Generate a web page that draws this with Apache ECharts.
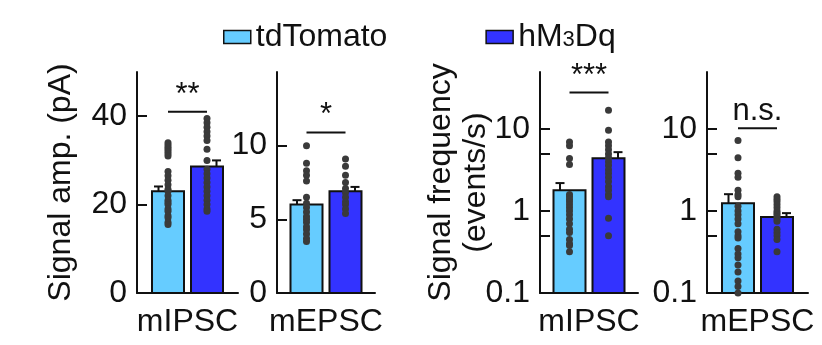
<!DOCTYPE html>
<html><head><meta charset="utf-8">
<script src="https://cdn.jsdelivr.net/npm/echarts@6/dist/echarts.min.js"></script>
<style>html,body{margin:0;padding:0;background:#fff}#c{width:822px;height:345px}</style>
</head><body><div id="c"></div>
<script>
// ---- data ----
const panelLabels = ['mIPSC', 'mEPSC', 'mIPSC', 'mEPSC'];
const groupNames = ['tdTomato', 'hM3Dq'];
const tdAmpIPSC = [34.0, 33.5, 33.0, 32.5, 32.0, 31.5, 31.0, 27.5, 26.5, 25.5, 24.5, 23.5, 23.0, 22.0, 21.0, 20.5, 20.0, 19.0, 18.5, 17.5, 17.0, 16.0, 15.5];
const hmAmpIPSC = [39.5, 38.5, 37.5, 36.5, 35.5, 34.5, 32.5, 30.0, 28.0, 27.0, 26.0, 25.0, 24.0, 23.0, 22.0, 21.0, 20.0, 19.0, 18.5];
const tdAmpEPSC = [10.0, 8.8, 8.3, 8.0, 7.6, 6.5, 6.1, 5.8, 5.5, 5.2, 5.0, 4.8, 4.5, 4.3, 4.0, 3.7, 3.5];
const hmAmpEPSC = [9.1, 8.6, 8.0, 7.5, 7.1, 6.8, 6.5, 6.2, 6.0, 5.7, 5.4];
const tdFreqIPSC = [7.0, 6.3, 4.4, 3.7, 1.6, 1.5, 1.4, 1.3, 1.2, 1.1, 1.0, 0.9, 0.8, 0.7, 0.6, 0.55, 0.45, 0.4, 0.38, 0.32];
const hmFreqIPSC = [17.0, 9.7, 7.0, 6.3, 5.6, 5.0, 4.5, 4.0, 3.6, 3.2, 2.9, 2.6, 2.3, 2.0, 1.8, 1.6, 1.5, 0.82, 0.5];
const tdFreqEPSC = [7.3, 4.5, 2.9, 2.6, 1.8, 1.6, 1.5, 1.15, 1.0, 0.9, 0.8, 0.7, 0.56, 0.5, 0.47, 0.35, 0.3, 0.27, 0.22, 0.18, 0.14, 0.12, 0.10];
const hmFreqEPSC = [1.5, 1.4, 1.3, 1.2, 1.1, 1.0, 0.95, 0.9, 0.85, 0.8, 0.75, 0.6, 0.55, 0.5, 0.45, 0.32];
const tdMean = [23.0, 6.0, 1.8, 1.25];
const tdSem = [1.1, 0.3, 0.4, 0.36];
const hmMean = [28.6, 6.9, 4.43, 0.845];
const hmSem = [1.4, 0.3, 0.82, 0.1];
const sigText = ['**', '*', '***', 'n.s.'];
const sigLevel = [41.0, 10.9, 28.0, 10.3];
const ampIPSCTicks = [0, 20, 40];
const ampEPSCTicks = [0, 5, 10];
const logLabelValues = [0.1, 1, 10];
const logTickValues = [0.1, 0.5, 1, 5, 10];
const yNames = ['Signal amp. (pA)', '', 'Signal frequency\n(events/s)', ''];

// ---- style ----
const FONT = '"Liberation Sans", Arial, sans-serif';
const FS = 32;
const LIGHT = '#66ccff', DARK = '#3333ff', DOT = '#3a3a3a', INK = '#111111';
const BAR_W = 32, BAR_OFF = 19.5, ERR_OFF = 9.5, CAP = 4.5;
const gridBoxes = [[137, 101], [277, 98], [540, 98], [707, 101]];
const tdDots = [tdAmpIPSC, tdAmpEPSC, tdFreqIPSC, tdFreqEPSC];
const hmDots = [hmAmpIPSC, hmAmpEPSC, hmFreqIPSC, hmFreqEPSC];

function barRender(side, fill) {
  return function (params, api) {
    const cs = params.coordSys;
    const base = cs.y + cs.height;
    const c = api.coord([api.value(0), api.value(1)]);
    const e = api.coord([api.value(0), api.value(1) + api.value(2)]);
    const cx = c[0] + side * BAR_OFF;
    const ex = cx + side * ERR_OFF;
    return { type: 'group', children: [
      { type: 'line', shape: { x1: ex, y1: c[1], x2: ex, y2: e[1] }, style: { stroke: INK, lineWidth: 2 } },
      { type: 'line', shape: { x1: ex - CAP, y1: e[1], x2: ex + CAP, y2: e[1] }, style: { stroke: INK, lineWidth: 2 } },
      { type: 'rect', shape: { x: cx - BAR_W / 2, y: c[1], width: BAR_W, height: base - c[1] }, style: { fill: fill, stroke: INK, lineWidth: 2 } }
    ] };
  };
}
function sigRender(i) {
  return function (params, api) {
    const c = api.coord([api.value(0), api.value(1)]);
    return { type: 'group', children: [
      { type: 'line', shape: { x1: c[0] - BAR_OFF, y1: c[1], x2: c[0] + BAR_OFF, y2: c[1] }, style: { stroke: INK, lineWidth: 2 } },
      { type: 'text', style: { text: sigText[i], x: c[0], y: c[1] - 1, align: 'center', verticalAlign: 'bottom', fontSize: 31, fontFamily: FONT, fill: INK } }
    ] };
  };
}

const grid = gridBoxes.map(([l, w]) => ({ left: l, top: 72, width: w, height: 221, outerBoundsMode: 'none' }));
const xAxis = panelLabels.map((lab, i) => ({
  type: 'category', gridIndex: i, data: [lab],
  axisLine: { lineStyle: { color: INK, width: 2 } }, axisTick: { show: false },
  axisLabel: { fontSize: FS, fontFamily: FONT, color: INK, margin: 13 }
}));
const yAxis = [0, 1, 2, 3].map(i => {
  const isLog = i >= 2;
  const ax = {
    gridIndex: i,
    type: isLog ? 'log' : 'value',
    min: isLog ? 0.1 : 0,
    max: isLog ? 50 : (i === 0 ? 50 : 15),
    splitLine: { show: false },
    axisLine: { show: true, lineStyle: { color: INK, width: 2 } },
    axisTick: { show: true, inside: true, length: 10, lineStyle: { color: INK, width: 2 },
      customValues: isLog ? logTickValues : (i === 0 ? ampIPSCTicks : ampEPSCTicks) },
    axisLabel: { fontSize: FS, fontFamily: FONT, color: INK, margin: 10,
      customValues: isLog ? logLabelValues : (i === 0 ? ampIPSCTicks : ampEPSCTicks) },
    name: yNames[i], nameLocation: 'middle', nameMoveOverlap: false,
    nameGap: i === 0 ? 58 : 46,
    nameTextStyle: { fontSize: FS, fontFamily: FONT, color: INK, lineHeight: 35 }
  };
  if (isLog) ax.logBase = 10;
  return ax;
});

const series = [];
for (let i = 0; i < 4; i++) {
  series.push({ type: 'custom', name: groupNames[0], xAxisIndex: i, yAxisIndex: i, z: 2,
    data: [[0, tdMean[i], tdSem[i]]], encode: { x: 0, y: 1 }, renderItem: barRender(-1, LIGHT), silent: true });
  series.push({ type: 'custom', name: groupNames[1], xAxisIndex: i, yAxisIndex: i, z: 2,
    data: [[0, hmMean[i], hmSem[i]]], encode: { x: 0, y: 1 }, renderItem: barRender(1, DARK), silent: true });
  series.push({ type: 'scatter', name: groupNames[0] + ' cells', xAxisIndex: i, yAxisIndex: i, z: 3,
    data: tdDots[i].map(v => [0, v]), symbolSize: 7, symbolOffset: [-BAR_OFF, 0],
    itemStyle: { color: DOT, opacity: 1 }, silent: true });
  series.push({ type: 'scatter', name: groupNames[1] + ' cells', xAxisIndex: i, yAxisIndex: i, z: 3,
    data: hmDots[i].map(v => [0, v]), symbolSize: 7, symbolOffset: [BAR_OFF, 0],
    itemStyle: { color: DOT, opacity: 1 }, silent: true });
  series.push({ type: 'custom', name: 'sig' + i, xAxisIndex: i, yAxisIndex: i, z: 3,
    data: [[0, sigLevel[i]]], encode: { x: 0, y: 1 }, renderItem: sigRender(i), silent: true });
}

const chart = echarts.init(document.getElementById('c'), null, { renderer: 'canvas' });
chart.setOption({
  animation: false,
  backgroundColor: '#fff',
  textStyle: { fontFamily: FONT },
  legend: {
    left: 223, top: 21, padding: 0, itemWidth: 27, itemHeight: 13, itemGap: 98, icon: 'rect',
    selectedMode: false,
    data: [
      { name: groupNames[0], itemStyle: { color: LIGHT, borderColor: INK, borderWidth: 1.5 } },
      { name: groupNames[1], itemStyle: { color: DARK, borderColor: INK, borderWidth: 1.5 } }
    ],
    textStyle: { fontSize: FS, fontFamily: FONT, color: INK,
      rich: { n: { fontSize: FS, fontFamily: FONT, color: INK, verticalAlign: 'bottom' },
              s: { fontSize: 22, fontFamily: FONT, color: INK, verticalAlign: 'bottom', padding: [0, 0, 2, 0] } } },
    formatter: n => n === 'hM3Dq' ? '{n|hM}{s|3}{n|Dq}' : n
  },
  grid: grid, xAxis: xAxis, yAxis: yAxis, series: series
});
</script></body></html>
